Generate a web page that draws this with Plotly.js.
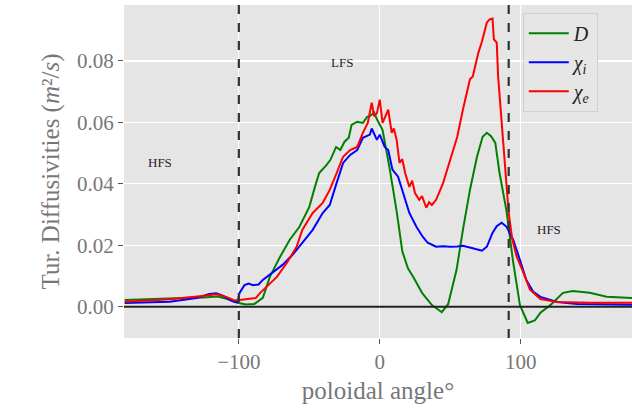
<!DOCTYPE html>
<html>
<head>
<meta charset="utf-8">
<script src="https://cdn.plot.ly/plotly-3.0.1.min.js"></script>
<style>html,body{margin:0;padding:0;background:#fff;}#chart{width:632px;height:408px;}</style>
</head>
<body>
<div id="chart"></div>
<script>
// Green: D
const dAngle = [-181,-160,-140,-125,-115,-108,-100,-95,-89,-83,-78,-71,-64,-57,-50,-46,-43,-38,-35,-31,-28,-25,-22,-20,-16,-12,-9,-7,-4,-2,2,7,12,16,20,24,30,37,44,48.5,54.5,59,64,69,73,76,79,82,85,90,94.5,99.5,105,110,114,121,130,137,149,161,179];
const dVals = [0.0022,0.0026,0.0028,0.003,0.0033,0.0025,0.0012,0.0007,0.0009,0.0029,0.0097,0.016,0.0217,0.026,0.0325,0.039,0.0435,0.046,0.0478,0.052,0.051,0.0537,0.055,0.0592,0.0602,0.0598,0.0618,0.062,0.0632,0.061,0.0575,0.045,0.031,0.018,0.0125,0.0095,0.0045,0.0005,-0.0018,0.0008,0.012,0.025,0.038,0.0488,0.0553,0.0566,0.0555,0.0533,0.0435,0.031,0.015,0.0005,-0.0053,-0.0045,-0.002,0.0005,0.0045,0.0051,0.0045,0.0032,0.0028];
// Blue: chi_i
const ciAngle = [-181,-160,-149,-130,-121,-116,-111,-106.6,-103,-101,-99.5,-96,-93,-90,-86,-83,-76,-69,-62,-55,-47.6,-40.5,-35.5,-30.6,-26,-21,-16,-12,-7,-5.7,-4,-2,0,3.5,6,9,13,16.5,21,26,30.6,34,40,45,50,55,59,66,72.5,76,80,83,86.5,90,94.7,99.5,104,109,114,126,140,179];
const ciVals = [0.0012,0.0014,0.0016,0.0028,0.0041,0.0044,0.0035,0.0022,0.0015,0.0014,0.0045,0.007,0.0075,0.007,0.0072,0.0087,0.011,0.0136,0.0168,0.0208,0.025,0.0305,0.0331,0.0403,0.0468,0.0494,0.051,0.055,0.056,0.058,0.0565,0.0543,0.056,0.052,0.051,0.0446,0.0423,0.037,0.0305,0.026,0.0227,0.0208,0.0195,0.0197,0.0195,0.0196,0.0198,0.019,0.0182,0.0195,0.024,0.0262,0.0273,0.026,0.0217,0.0152,0.0087,0.0048,0.0032,0.0015,0.0009,0.0006];
// Red: chi_e
const ceAngle = [-181,-149,-126,-116,-109,-103,-99.5,-92,-88,-85,-80.5,-73,-66,-59,-55,-47.6,-40.5,-35.5,-30.6,-26,-21,-16,-12,-8.5,-5.7,-4,-2,0,2,4,6,8.5,10,12,14,16,18,21,23,25,28,30,33,35,37,40,45,50,55,59,64,66,70,72.5,76,78,80,81,83,84,86.5,88,90,91.5,94,97,102,106.6,114,126,149,179];
const ceVals = [0.0016,0.0024,0.0035,0.004,0.0032,0.002,0.0022,0.0025,0.0028,0.0044,0.0065,0.0097,0.0142,0.0195,0.025,0.0305,0.0338,0.038,0.0435,0.0488,0.051,0.052,0.0566,0.0598,0.0664,0.062,0.063,0.0674,0.0598,0.062,0.0641,0.0566,0.058,0.0543,0.0468,0.048,0.0435,0.039,0.041,0.037,0.0348,0.036,0.0322,0.034,0.0331,0.0348,0.0403,0.0478,0.0553,0.0641,0.074,0.0749,0.0827,0.0863,0.0925,0.0935,0.0938,0.087,0.086,0.0749,0.0609,0.052,0.04,0.0305,0.022,0.0165,0.011,0.0055,0.0025,0.0015,0.0013,0.0013];

const seriesNames = ['<i>D</i>','<i>χ<sub>i</sub></i>','<i>χ<sub>e</sub></i>'];
const seriesColors = ['green','blue','red'];
const xTicks = [-100, 0, 100];
const xTickText = ['−100','0','100'];
const yTicks = [0, 0.02, 0.04, 0.06, 0.08];
const yTickText = ['0.00','0.02','0.04','0.06','0.08'];
const boundaryAngles = [-100, 91.5];
const regionLabels = ['HFS','LFS','HFS'];
const regionX = [-156, -27, 120];
const regionY = [0.047, 0.0795, 0.025];

const serif = 'Liberation Serif, DejaVu Serif, serif';
const xs = [dAngle, ciAngle, ceAngle];
const ys = [dVals, ciVals, ceVals];
const traces = xs.map((x,i)=>({
  x: x, y: ys[i], type:'scatter', mode:'lines', name: seriesNames[i],
  line:{color: seriesColors[i], width:2}
}));

const shapes = boundaryAngles.map(a=>({
  type:'line', xref:'x', yref:'paper', x0:a, x1:a, y0:0, y1:1,
  line:{color:'#333', width:2.2, dash:'dash'}
}));
shapes.push({type:'line', xref:'paper', yref:'y', x0:0, x1:1, y0:0, y1:0, line:{color:'#222', width:2}});

const annotations = regionLabels.map((t,i)=>({
  x: regionX[i], y: regionY[i], xref:'x', yref:'y', text:t, showarrow:false,
  font:{family:serif, size:13, color:'#222'}
}));

const layout = {
  width:632, height:408,
  margin:{l:124, r:0, t:5, b:70},
  paper_bgcolor:'#fff', plot_bgcolor:'#e5e5e5',
  showlegend:true,
  legend:{x:0.785, y:0.977, xanchor:'left', yanchor:'top', bgcolor:'rgba(229,229,229,0.9)', bordercolor:'#d0d0d0', borderwidth:1,
    font:{family:serif, size:20, color:'#222'}, tracegroupgap:0, itemwidth:40},
  xaxis:{range:[-181.5,179], tickvals:xTicks, ticktext:xTickText, showgrid:true, gridcolor:'#fff', gridwidth:1.2,
    zeroline:false, ticks:'outside', ticklen:5, tickcolor:'#555', tickfont:{family:serif, size:21, color:'#777'},
    title:{text:'poloidal angle°', font:{family:serif, size:25, color:'#777'}, standoff:8}, showline:false},
  yaxis:{range:[-0.0102,0.0982], tickvals:yTicks, ticktext:yTickText, showgrid:true, gridcolor:'#fff', gridwidth:1.2,
    zeroline:false, ticks:'outside', ticklen:5, tickcolor:'#555', tickfont:{family:serif, size:21, color:'#777'},
    title:{text:'Tur. Diffusivities (<i>m</i>²/<i>s</i>)', font:{family:serif, size:25, color:'#777'}, standoff:10}, showline:false},
  shapes: shapes,
  annotations: annotations
};
Plotly.newPlot('chart', traces, layout, {displayModeBar:false, staticPlot:true});
</script>
</body>
</html>
